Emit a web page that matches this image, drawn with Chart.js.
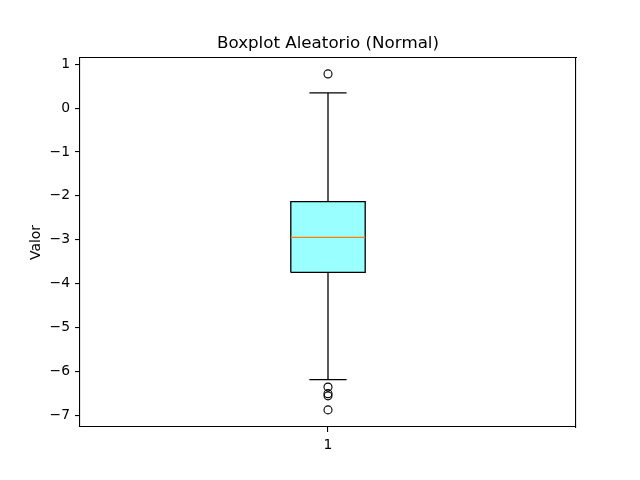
<!DOCTYPE html>
<html>
<head>
<meta charset="utf-8">
<script src="https://cdn.jsdelivr.net/npm/chart.js@4/dist/chart.umd.min.js"></script>
<style>
  body { margin: 0; background: #fff; }
</style>
</head>
<body>
<canvas id="grafico" width="640" height="480"></canvas>
<script>
const posicoes = [1];
const caixa = [-3.745, -2.945, -2.131]; // q1, mediana, q3
const bigodes = [-6.19, 0.346]; // inferior, superior
const outliers = [0.78, -6.36, -6.51, -6.56, -6.88];
const ticksY = [-7, -6, -5, -4, -3, -2, -1, 0, 1];
const ticksX = [1];

const larg = 0.15; // largura da caixa (unidades de x)
const fonte = "DejaVu Sans";

const x = posicoes[0];
const q1 = caixa[0], med = caixa[1], q3 = caixa[2];
const esq = x - larg / 2, dir = x + larg / 2;
const capEsq = x - larg / 4, capDir = x + larg / 4;

function linha(pontos, cor, extra) {
  return Object.assign({
    data: pontos,
    showLine: true,
    borderColor: cor,
    borderWidth: 1.3,
    pointRadius: 0,
    fill: false,
    order: 1,
  }, extra || {});
}

const datasets = [
  // preenchimento da caixa (desenhado por baixo)
  linha([{ x: esq, y: q3 }, { x: dir, y: q3 }], "rgba(0,0,0,0)", {
    fill: { value: q1 },
    backgroundColor: "#99ffff",
    borderWidth: 0,
    order: 10,
  }),
  // contorno da caixa
  linha([
    { x: esq, y: q1 }, { x: dir, y: q1 }, { x: dir, y: q3 },
    { x: esq, y: q3 }, { x: esq, y: q1 },
  ], "#000"),
  // mediana
  linha([{ x: esq, y: med }, { x: dir, y: med }], "#ff7f0e", { order: 0 }),
  // bigodes e tampas
  linha([{ x: x, y: q1 }, { x: x, y: bigodes[0] }], "#000"),
  linha([{ x: x, y: q3 }, { x: x, y: bigodes[1] }], "#000"),
  linha([{ x: capEsq, y: bigodes[0] }, { x: capDir, y: bigodes[0] }], "#000"),
  linha([{ x: capEsq, y: bigodes[1] }, { x: capDir, y: bigodes[1] }], "#000"),
  // outliers
  {
    data: outliers.map(v => ({ x: x, y: v })),
    showLine: false,
    order: 0,
    pointStyle: "circle",
    pointRadius: 4,
    pointBorderWidth: 1.1,
    pointBorderColor: "#000",
    pointBackgroundColor: "rgba(0,0,0,0)",
  },
];

const tickFont = { family: fonte, size: 13.9 };

new Chart(document.getElementById("grafico"), {
  type: "scatter",
  data: { datasets: datasets },
  options: {
    responsive: false,
    animation: false,
    layout: { padding: { left: 16, right: 0, top: 0, bottom: 0 } },
    plugins: {
      legend: { display: false },
      tooltip: { enabled: false },
      title: {
        display: true,
        text: "Boxplot Aleatorio (Normal)",
        color: "#000",
        font: { family: fonte, size: 16.7, weight: "normal" },
        padding: { top: 34, bottom: 4 },
      },
    },
    scales: {
      x: {
        type: "linear",
        position: "bottom",
        min: 0.5,
        max: 1.5,
        afterBuildTicks: (s) => { s.ticks = ticksX.map(v => ({ value: v })); },
        afterFit: (s) => { s.height = 53; },
        grid: { drawOnChartArea: false, drawTicks: true, tickLength: 5, color: "#000", lineWidth: 1.1 },
        border: { display: true, color: "#000", width: 1.1 },
        ticks: { color: "#000", padding: 5, font: tickFont, maxRotation: 0 },
      },
      y: {
        type: "linear",
        position: "left",
        min: -7.27,
        max: 1.142,
        afterBuildTicks: (s) => { s.ticks = ticksY.map(v => ({ value: v })); },
        afterFit: (s) => { s.width = 64; },
        grid: { drawOnChartArea: false, drawTicks: true, tickLength: 5, color: "#000", lineWidth: 1.1 },
        border: { display: true, color: "#000", width: 1.1 },
        ticks: {
          color: "#000",
          padding: 5,
          font: tickFont,
          callback: (v) => String(v).replace("-", "\u2212"),
        },
        title: {
          display: true,
          text: "Valor",
          color: "#000",
          font: { family: fonte, size: 13.9 },
          padding: { top: 12, bottom: 0 },
        },
      },
      // eixos extras só para fechar a moldura
      x2: {
        type: "linear",
        position: "top",
        min: 0.5,
        max: 1.5,
        afterBuildTicks: (s) => { s.ticks = []; },
        afterFit: (s) => { s.height = 0; },
        grid: { display: false, drawTicks: false },
        ticks: { display: false },
        border: { display: true, color: "#000", width: 1.1 },
      },
      y2: {
        type: "linear",
        position: "right",
        min: -7.27,
        max: 1.142,
        afterBuildTicks: (s) => { s.ticks = []; },
        afterFit: (s) => { s.width = 64; },
        grid: { display: false, drawTicks: false },
        ticks: { display: false },
        border: { display: true, color: "#000", width: 1.1 },
      },
    },
  },
});
</script>
</body>
</html>
